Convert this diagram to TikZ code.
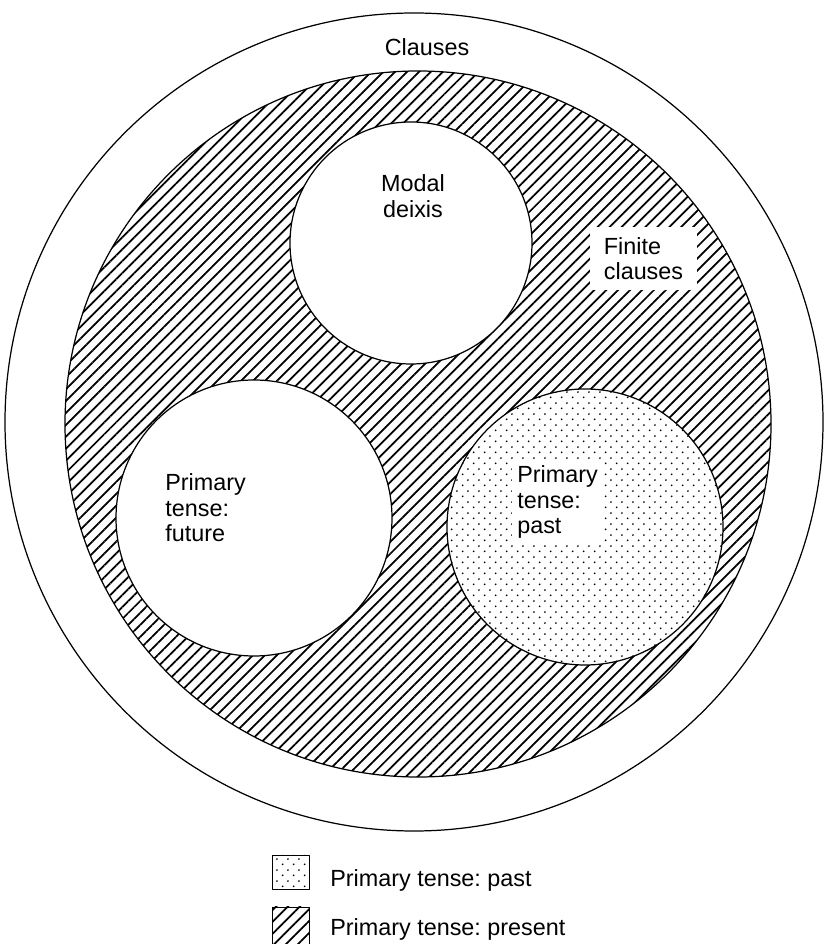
\documentclass[tikz,border=0pt]{standalone}
\usepackage{fontspec}
\setmainfont{Liberation Sans}
\frenchspacing
\usepackage{tikz}
\usetikzlibrary{patterns,patterns.meta}

\pgfdeclarepatternformonly{pastdots}{\pgfqpoint{0pt}{0pt}}{\pgfqpoint{6.4pt}{6.4pt}}{\pgfqpoint{6.4pt}{6.4pt}}{%
  \pgfpathcircle{\pgfqpoint{1.6pt}{1.6pt}}{0.6pt}%
  \pgfpathcircle{\pgfqpoint{4.8pt}{4.8pt}}{0.6pt}%
  \pgfusepath{fill}}

\tikzset{
  ring/.style={line width=0.7pt},
  present/.style={pattern={Lines[angle=45,distance=4.8pt,line width=1pt]}},
  past/.style={pattern=pastdots},
  lbl/.style={font=\fontsize{13.3}{14.6}\selectfont, align=left, inner sep=0pt},
}

\begin{document}
\begin{tikzpicture}[x=0.02cm, y=0.02cm, line join=round]
  \useasboundingbox (0,0) rectangle (825,944);
  \coordinate (Cl) at (414,522);
  \coordinate (Fi) at (418,520);
  \coordinate (Mo) at (411,701);
  \coordinate (Fu) at (254,426);
  \coordinate (Pa) at (585,417);
  % circles
  \draw[ring] (Cl) circle (409);
  \draw[ring, present] (Fi) circle (353);
  \draw[ring, fill=white] (Mo) circle (121);
  \draw[ring, fill=white] (Fu) circle (138);
  \fill[white] (Pa) circle (138);
  \draw[ring, past] (Pa) circle (138);
  % labels
  \node[lbl] (clauses) at (427,897) {Clauses};
  \node[lbl, align=center] (modal) at (413,748) {Modal\\deixis};
  \node[lbl, fill=white, minimum width=2.14cm, minimum height=1.26cm] (finite) at (643.5,685.5) {Finite\\clauses};
  \node[lbl, anchor=west] (future) at (165,436) {Primary\\tense:\\future};
  \node[lbl, anchor=west, fill=white, inner sep=3pt] (pasttxt) at (511.7,442) {Primary\\tense:\\past};
  % key
  \draw[line width=0.5pt, past] (272,55) rectangle (309,89);
  \node[lbl, anchor=base west] (keypast) at (330,57) {Primary tense: past};
  \draw[line width=0.5pt, present] (272,-4) rectangle (309,37);
  \node[lbl, anchor=base west] (keypres) at (330,9) {Primary tense: present};
\end{tikzpicture}
\end{document}
